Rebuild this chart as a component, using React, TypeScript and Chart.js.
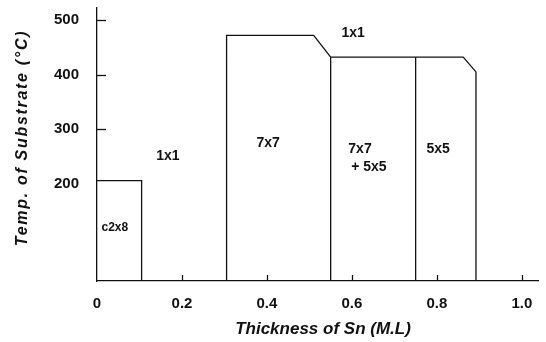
import React, { useEffect, useRef } from "react";
import { Chart, registerables } from "chart.js";

Chart.register(...registerables);

// Phase boundaries (x: thickness of Sn in M.L, T: substrate temperature in °C)
const c2x8X = [0, 0.105, 0.105];
const c2x8T = [206, 206, 22];
const outerX = [0.305, 0.305, 0.51, 0.55, 0.862, 0.892, 0.892];
const outerT = [22, 472, 472, 432, 432, 405, 22];
const split1X = [0.55, 0.55];
const split1T = [22, 432];
const split2X = [0.75, 0.75];
const split2T = [22, 432];

// Tick values
const xTicks = [0, 0.2, 0.4, 0.6, 0.8, 1.0];
const xTickLabels = ["0", "0.2", "0.4", "0.6", "0.8", "1.0"];
const yTicks = [200, 300, 400, 500];
const yTickMarks = [300, 400, 500];

// Region labels
const regionText = ["1x1", "1x1", "7x7", "7x7", "+ 5x5", "5x5", "c2x8"];
const regionX = [0.167, 0.603, 0.403, 0.619, 0.64, 0.803, 0.042];
const regionT = [251, 476, 274, 264, 231, 264, 120];

const FONT = "'Liberation Sans', Arial, sans-serif";

function pts(xs: number[], ys: number[]) {
  return xs.map((x, i) => ({ x, y: ys[i] }));
}

export default function App() {
  const ref = useRef<HTMLCanvasElement>(null);

  useEffect(() => {
    const canvas = ref.current;
    if (!canvas) return;

    const lineDs = (data: { x: number; y: number }[]) => ({
      data,
      borderColor: "#111",
      borderWidth: 1.3,
      pointRadius: 0,
      fill: false,
      tension: 0,
    });

    const overlay = {
      id: "overlay",
      afterDraw(chart: any) {
        const { ctx, scales } = chart;
        const xs = scales.x;
        const ys = scales.y;
        const bottom = chart.chartArea.bottom;
        const left = chart.chartArea.left;
        ctx.save();
        ctx.strokeStyle = "#111";
        ctx.lineWidth = 1.3;
        // x tick marks (inward)
        xTicks.forEach((v) => {
          if (v === 0) return;
          const px = Math.round(xs.getPixelForValue(v)) + 0.5;
          ctx.beginPath();
          ctx.moveTo(px, bottom);
          ctx.lineTo(px, bottom - 6);
          ctx.stroke();
        });
        // y tick marks (inward)
        yTickMarks.forEach((v) => {
          const py = Math.round(ys.getPixelForValue(v)) + 0.5;
          ctx.beginPath();
          ctx.moveTo(left, py);
          ctx.lineTo(left + 9, py);
          ctx.stroke();
        });
        // region labels
        ctx.fillStyle = "#111";
        ctx.textAlign = "center";
        ctx.textBaseline = "middle";
        regionText.forEach((t, i) => {
          ctx.font = (t === "c2x8" ? "bold 12px " : "bold 14px ") + FONT;
          ctx.fillText(t, xs.getPixelForValue(regionX[i]), ys.getPixelForValue(regionT[i]));
        });
        // axis titles
        ctx.font = "italic bold 17px " + FONT;
        ctx.fillText("Thickness of Sn (M.L)", 323, 329);
        ctx.save();
        ctx.translate(23, 138);
        ctx.rotate(-Math.PI / 2);
        ctx.font = "italic bold 16px " + FONT;
        (ctx as any).letterSpacing = "1.7px";
        ctx.fillText("Temp. of Substrate (°C)", 0, 0);
        ctx.restore();
        ctx.restore();
      },
    };

    const chart = new Chart(canvas, {
      type: "line",
      data: {
        datasets: [
          lineDs(pts(c2x8X, c2x8T)),
          lineDs(pts(outerX, outerT)),
          lineDs(pts(split1X, split1T)),
          lineDs(pts(split2X, split2T)),
        ],
      },
      options: {
        responsive: false,
        animation: false,
        layout: { padding: { top: 8, right: 8, left: 0, bottom: 0 } },
        plugins: {
          legend: { display: false },
          tooltip: { enabled: false },
        },
        scales: {
          x: {
            type: "linear",
            min: 0,
            max: 1.038,
            grid: { display: false, drawTicks: false },
            border: { display: true, color: "#111", width: 1.3 },
            afterBuildTicks: (s: any) => {
              s.ticks = xTicks.map((v) => ({ value: v }));
            },
            afterFit: (s: any) => {
              s.height = 61;
              s.paddingLeft = 0;
              s.paddingRight = 0;
            },
            ticks: {
              color: "#111",
              font: { family: FONT, size: 15, weight: "bold" },
              padding: 14,
              maxRotation: 0,
              autoSkip: false,
              callback: (v: any) => {
                const i = xTicks.indexOf(Number(v));
                return i >= 0 ? xTickLabels[i] : "";
              },
            },
          },
          y: {
            type: "linear",
            min: 22,
            max: 522,
            grid: { display: false, drawTicks: false },
            border: { display: true, color: "#111", width: 1.3 },
            afterBuildTicks: (s: any) => {
              s.ticks = yTicks.map((v) => ({ value: v }));
            },
            afterFit: (s: any) => {
              s.width = 97;
              s.paddingTop = 0;
              s.paddingBottom = 0;
            },
            ticks: {
              color: "#111",
              font: { family: FONT, size: 15, weight: "bold" },
              padding: 18,
              autoSkip: false,
            },
          },
        },
      },
      plugins: [overlay],
    } as any);

    return () => chart.destroy();
  }, []);

  return (
    <div style={{ position: "absolute", left: 0, top: 0, width: 546, height: 342, background: "#fff" }}>
      <canvas ref={ref} width={546} height={342} style={{ display: "block" }} />
    </div>
  );
}
